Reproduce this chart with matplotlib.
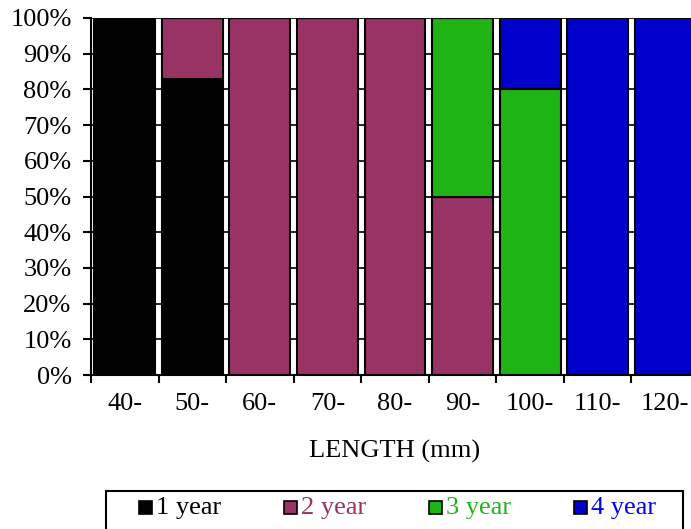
import matplotlib
matplotlib.use("Agg")
import matplotlib.pyplot as plt
from matplotlib.patches import Rectangle
import numpy as np

categories = ["40-", "50-", "60-", "70-", "80-", "90-", "100-", "110-", "120-"]
series_names = ["1 year", "2 year", "3 year", "4 year"]
year1 = [100, 83, 0, 0, 0, 0, 0, 0, 0]
year2 = [0, 17, 100, 100, 100, 50, 0, 0, 0]
year3 = [0, 0, 0, 0, 0, 50, 80, 0, 0]
year4 = [0, 0, 0, 0, 0, 0, 20, 100, 100]
colors = ["#000000", "#993366", "#1fb316", "#0000cc"]
text_colors = ["#000000", "#993366", "#1fb31e", "#0000ff"]
yticks = list(range(0, 101, 10))

plt.rcParams['font.family'] = ['Liberation Serif', 'DejaVu Serif']
FS = 19

fig = plt.figure(figsize=(6.91, 5.29), dpi=100)
W, H = 691, 529
ax = fig.add_axes([91 / W, 1 - 375 / H, 608 / W, 357 / H])

x = np.arange(len(categories))
bottom = np.zeros(len(categories))
for vals, c in zip([year1, year2, year3, year4], colors):
    v = np.array(vals, dtype=float)
    ax.bar(x, v, width=0.9, bottom=bottom, color=c, edgecolor="black",
           linewidth=1.5, zorder=3)
    bottom += v

ax.set_xlim(-0.5, len(categories) - 0.5)
ax.set_ylim(0, 100)
ax.set_yticks(yticks)
ax.set_yticklabels([f"{t}%" for t in yticks])
for t in yticks:
    ax.axhline(t, color="black", linewidth=1.2, zorder=1)

ax.set_xticks(x)
ax.set_xticklabels(categories)
ax.set_xticks(np.arange(-0.5, len(categories) - 0.4, 1), minor=True)
ax.tick_params(axis="x", which="major", length=0, pad=13, labelsize=FS)
ax.tick_params(axis="x", which="minor", length=6, width=1.5, direction="out")
ax.tick_params(axis="y", length=6, width=1.5, direction="out", pad=8, labelsize=FS)

for s in ["top", "right"]:
    ax.spines[s].set_visible(False)
for s in ["left", "bottom"]:
    ax.spines[s].set_linewidth(1.5)
    ax.spines[s].set_zorder(4)

ax.set_xlabel("LENGTH (mm)", fontsize=FS, labelpad=18)

# legend drawn manually in figure pixel coordinates
def fx(px):
    return px / W

def fy(py):
    return 1 - py / H

frame = Rectangle((fx(106), fy(580)), fx(683) - fx(106), fy(491) - fy(580),
                  transform=fig.transFigure, facecolor="white", edgecolor="black",
                  linewidth=1.5, zorder=5)
fig.add_artist(frame)
for i, (name, c, tc) in enumerate(zip(series_names, colors, text_colors)):
    x0 = 139 + 145 * i
    sq = Rectangle((fx(x0), fy(514)), fx(13), fy(501) - fy(514),
                   transform=fig.transFigure, facecolor=c, edgecolor="black",
                   linewidth=1.2, zorder=6)
    fig.add_artist(sq)
    fig.text(fx(x0 + 17), fy(508), name, color=tc, fontsize=FS,
             ha="left", va="center", zorder=6)

fig.savefig("out.png", dpi=100)
